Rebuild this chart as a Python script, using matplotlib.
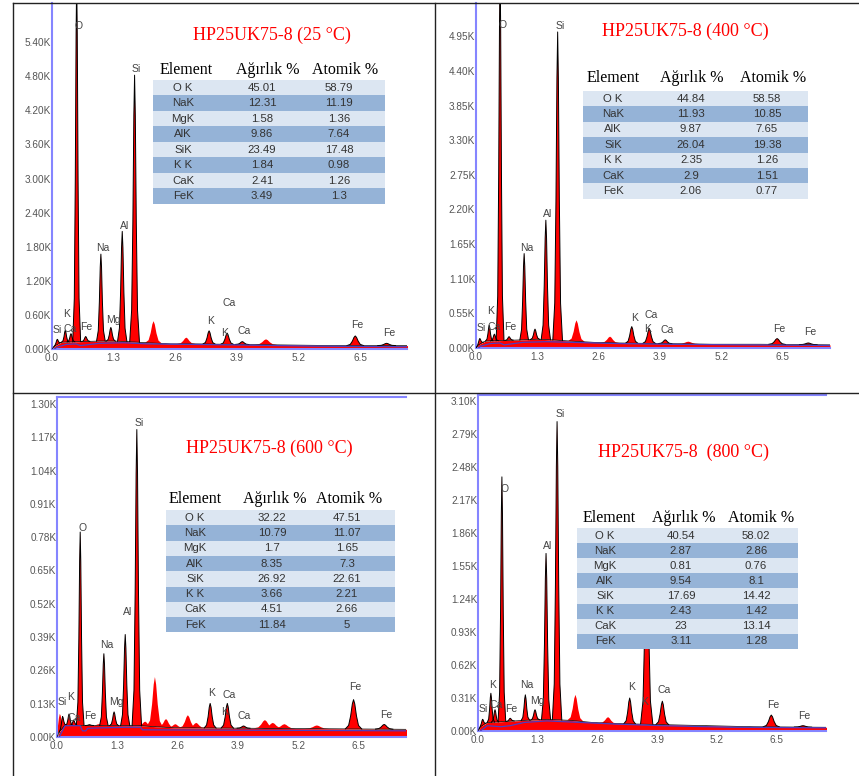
"""EDS spectra of HP25UK75-8 at four temperatures, with composition tables."""

import numpy as np
import matplotlib
matplotlib.use('Agg')
import matplotlib.pyplot as plt
from matplotlib.patches import Rectangle
from matplotlib.lines import Line2D

W, H = 859, 776

# ---------------- data ----------------
x_ticks = [0.0, 1.3, 2.6, 3.9, 5.2, 6.5]

titles = ['HP25UK75-8 (25 °C)', 'HP25UK75-8 (400 °C)',
          'HP25UK75-8 (600 °C)', 'HP25UK75-8  (800 °C)']

# y ticks (K counts)
y25 = [0.00, 0.60, 1.20, 1.80, 2.40, 3.00, 3.60, 4.20, 4.80, 5.40]
y400 = [0.00, 0.55, 1.10, 1.65, 2.20, 2.75, 3.30, 3.85, 4.40, 4.95]
y600 = [0.00, 0.13, 0.26, 0.39, 0.52, 0.65, 0.78, 0.91, 1.04, 1.17, 1.30]
y800 = [0.00, 0.31, 0.62, 0.93, 1.24, 1.55, 1.86, 2.17, 2.48, 2.79, 3.10]

# fitted peaks: energy (keV), height (K counts)
pk25_e = [0.11, 0.28, 0.40, 0.52, 0.71, 1.03, 1.24, 1.48, 1.74, 3.31, 3.69, 4.01, 6.39, 7.05]
pk25_h = [0.17, 0.33, 0.27, 6.50, 0.22, 1.67, 0.38, 2.07, 4.82, 0.32, 0.28, 0.13, 0.23, 0.10]
pk400_e = [0.08, 0.28, 0.39, 0.51, 0.70, 1.02, 1.25, 1.48, 1.73, 3.30, 3.67, 4.01, 6.38, 7.04]
pk400_h = [0.15, 0.36, 0.22, 6.00, 0.18, 1.50, 0.30, 2.03, 5.02, 0.34, 0.31, 0.13, 0.15, 0.08]
pk600_e = [0.12, 0.26, 0.36, 0.50, 0.70, 1.01, 1.23, 1.47, 1.72, 3.30, 3.67, 4.02, 6.39, 7.05]
pk600_h = [0.08, 0.09, 0.065, 0.80, 0.048, 0.325, 0.098, 0.40, 1.20, 0.131, 0.131, 0.043, 0.146, 0.049]
pk800_e = [0.10, 0.28, 0.37, 0.52, 0.70, 1.03, 1.24, 1.48, 1.72, 3.30, 3.67, 4.01, 6.38, 7.07]
pk800_h = [0.11, 0.355, 0.20, 2.39, 0.12, 0.34, 0.20, 1.67, 2.91, 0.31, 1.90, 0.28, 0.15, 0.05]

# unfitted (red only) peaks
ex25_e, ex25_h = [2.14, 2.83, 4.51], [0.49, 0.20, 0.17]
ex400_e, ex400_h = [2.13, 2.84, 4.50], [0.44, 0.18, 0.10]
ex600_e = [0.06, 0.90, 1.90, 2.11, 2.35, 2.55, 2.82, 3.00, 4.48, 4.65, 4.90, 5.60]
ex600_h = [0.09, 0.05, 0.06, 0.234, 0.07, 0.05, 0.085, 0.055, 0.066, 0.055, 0.05, 0.045]
ex800_e, ex800_h = [2.12, 2.83], [0.34, 0.13]

# continuum (top of the red area between peaks)
ct25_e = [0.0, 0.05, 0.2, 0.6, 1.0, 1.3, 1.6, 2.0, 2.5, 3.0, 4.0, 5.0, 6.0, 7.5]
ct25_c = [0.0, 0.05, 0.12, 0.13, 0.14, 0.14, 0.13, 0.11, 0.09, 0.09, 0.08, 0.07, 0.06, 0.06]
ct400_e = [0.0, 0.05, 0.2, 0.6, 1.0, 1.3, 1.6, 2.0, 2.5, 3.0, 4.0, 5.0, 6.0, 7.5]
ct400_c = [0.0, 0.05, 0.11, 0.12, 0.13, 0.14, 0.13, 0.11, 0.09, 0.08, 0.07, 0.06, 0.06, 0.05]
ct600_e = [0.0, 0.05, 0.17, 0.5, 1.0, 1.8, 2.5, 3.5, 5.0, 6.0, 7.55]
ct600_c = [0.0, 0.02, 0.046, 0.045, 0.045, 0.044, 0.036, 0.035, 0.033, 0.032, 0.030]
ct800_e = [0.0, 0.05, 0.2, 0.6, 1.0, 1.5, 2.0, 2.5, 3.0, 4.0, 5.0, 6.0, 7.6]
ct800_c = [0.0, 0.04, 0.08, 0.09, 0.10, 0.11, 0.10, 0.08, 0.07, 0.06, 0.05, 0.04, 0.035]

# background (purple line)
bg25_e = [0.05, 0.1, 0.3, 0.5, 0.6, 1.0, 1.5, 2.0, 3.0, 4.0, 5.5, 7.5]
bg25_c = [0.0, 0.03, 0.08, 0.09, 0.06, 0.10, 0.11, 0.09, 0.08, 0.07, 0.05, 0.04]
bg400_e = [0.05, 0.1, 0.3, 0.5, 0.6, 1.0, 1.5, 2.0, 3.0, 4.0, 5.5, 7.5]
bg400_c = [0.0, 0.03, 0.07, 0.08, 0.05, 0.09, 0.10, 0.09, 0.07, 0.06, 0.05, 0.04]
bg600_e = [0.05, 0.17, 0.50, 0.55, 0.62, 0.66, 1.0, 1.5, 1.80, 1.84, 3.0, 5.0, 7.55]
bg600_c = [0.0, 0.044, 0.044, 0.024, 0.024, 0.034, 0.036, 0.038, 0.038, 0.028, 0.027, 0.026, 0.024]
bg800_e = [0.05, 0.2, 0.5, 0.7, 1.0, 1.5, 2.0, 3.0, 4.0, 5.5, 7.6]
bg800_c = [0.0, 0.05, 0.04, 0.05, 0.08, 0.095, 0.085, 0.065, 0.05, 0.035, 0.03]

# peak labels: text, energy, counts
lb25_t = ['Si', 'K', 'Ca', 'Fe', 'O', 'Na', 'Mg', 'Al', 'Si', 'Ca', 'K', 'K', 'Ca', 'Fe', 'Fe']
lb25_e = [0.12, 0.31, 0.38, 0.73, 0.57, 1.07, 1.29, 1.52, 1.77, 3.73, 3.35, 3.63, 4.04, 6.44, 7.10]
lb25_k = [0.33, 0.62, 0.35, 0.38, 5.68, 1.77, 0.51, 2.16, 4.92, 0.81, 0.49, 0.29, 0.32, 0.43, 0.29]
lb400_t = ['Si', 'K', 'Ca', 'Fe', 'O', 'Na', 'Al', 'Si', 'K', 'Ca', 'K', 'Ca', 'Fe', 'Fe']
lb400_e = [0.12, 0.31, 0.38, 0.72, 0.56, 1.07, 1.51, 1.78, 3.35, 3.72, 3.63, 4.04, 6.43, 7.09]
lb400_k = [0.31, 0.58, 0.34, 0.33, 5.13, 1.59, 2.13, 5.12, 0.48, 0.52, 0.30, 0.28, 0.30, 0.25]
lb600_t = ['Si', 'K', 'Ca', 'Fe', 'O', 'Na', 'Mg', 'Al', 'Si', 'K', 'Ca', 'K', 'Ca', 'Fe', 'Fe']
lb600_e = [0.11, 0.30, 0.37, 0.71, 0.55, 1.07, 1.29, 1.52, 1.77, 3.33, 3.71, 3.62, 4.04, 6.42, 7.09]
lb600_k = [0.135, 0.156, 0.075, 0.081, 0.814, 0.361, 0.137, 0.486, 1.227, 0.172, 0.163, 0.098, 0.083, 0.195, 0.085]
lb800_t = ['Si', 'K', 'Ca', 'Fe', 'O', 'Na', 'Mg', 'Al', 'Si', 'K', 'K', 'Ca', 'Fe', 'Fe']
lb800_e = [0.12, 0.31, 0.39, 0.72, 0.57, 1.07, 1.29, 1.52, 1.78, 3.34, 3.63, 4.04, 6.43, 7.09]
lb800_k = [0.21, 0.43, 0.245, 0.21, 2.28, 0.43, 0.285, 1.74, 2.98, 0.41, 0.27, 0.39, 0.245, 0.144]

# composition tables
head = ['Element', 'Ağırlık %', 'Atomik %']
t25_el = ['O K', 'NaK', 'MgK', 'AlK', 'SiK', 'K K', 'CaK', 'FeK']
t25_wt = ['45.01', '12.31', '1.58', '9.86', '23.49', '1.84', '2.41', '3.49']
t25_at = ['58.79', '11.19', '1.36', '7.64', '17.48', '0.98', '1.26', '1.3']
t400_el = ['O K', 'NaK', 'AlK', 'SiK', 'K K', 'CaK', 'FeK']
t400_wt = ['44.84', '11.93', '9.87', '26.04', '2.35', '2.9', '2.06']
t400_at = ['58.58', '10.85', '7.65', '19.38', '1.26', '1.51', '0.77']
t600_el = ['O K', 'NaK', 'MgK', 'AlK', 'SiK', 'K K', 'CaK', 'FeK']
t600_wt = ['32.22', '10.79', '1.7', '8.35', '26.92', '3.66', '4.51', '11.84']
t600_at = ['47.51', '11.07', '1.65', '7.3', '22.61', '2.21', '2.66', '5']
t800_el = ['O K', 'NaK', 'MgK', 'AlK', 'SiK', 'K K', 'CaK', 'FeK']
t800_wt = ['40.54', '2.87', '0.81', '9.54', '17.69', '2.43', '23', '3.11']
t800_at = ['58.02', '2.86', '0.76', '8.1', '14.42', '1.42', '13.14', '1.28']

# ---------------- styles ----------------
RED = '#ff0000'
SPINE = '#8585ff'
BGLINE = '#4f3cc0'
LIGHT = '#dce6f2'
DARK = '#95b3d7'
SANS = 'Liberation Sans'
SERIF = 'Liberation Serif'
# peak profile (fraction of half-width, fraction of height)
PROF_X = [-1.0, -0.6, -0.35, -0.15, 0.0, 0.15, 0.35, 0.6, 1.0]
PROF_Y = [0.0, 0.12, 0.45, 0.85, 1.0, 0.85, 0.45, 0.12, 0.0]

fig = plt.figure(figsize=(W / 100, H / 100), dpi=100)


def fx(px):
    return px / W


def fy(py):
    return 1 - py / H


def halfwidth(e):
    return 0.075 + 0.016 * e


def draw_peak(ax, c, h, ce, cc, outline, widen=1.0):
    w = halfwidth(c) * widen
    base_c = np.interp(c, ce, cc)
    xs = [c + f * w for f in PROF_X]
    ys = [np.interp(x, ce, cc) + f * (h - base_c) for x, f in zip(xs, PROF_Y)]
    ax.fill(xs, ys, color=RED, lw=0, zorder=2)
    if outline:
        ax.plot(xs, ys, color='black', lw=0.7, zorder=3)


def draw_panel(rect, xmax, yticks, ymax, pk_e, pk_h, ex_e, ex_h,
               ct_e, ct_c, bg_e, bg_c, lb_t, lb_e, lb_k, top_spine):
    l, t, r, b = rect
    ax = fig.add_axes([fx(l), fy(b), fx(r - l), (b - t) / H])
    ax.fill_between(ct_e, 0, ct_c, color=RED, lw=0, zorder=1)
    for c, h in zip(ex_e, ex_h):
        draw_peak(ax, c, h, ct_e, ct_c, False, widen=1.6)
    for c, h in zip(pk_e, pk_h):
        draw_peak(ax, c, h, ct_e, ct_c, True)
    ax.plot(ct_e, ct_c, color='black', lw=0.5, zorder=3)
    ax.plot(bg_e, bg_c, color=BGLINE, lw=0.9, zorder=4)
    for s, e, k in zip(lb_t, lb_e, lb_k):
        ax.text(e, k, s, ha='center', va='center', fontsize=7.5,
                family=SANS, color='#444444', zorder=5)
    ax.set_xlim(0, xmax)
    ax.set_ylim(0, ymax)
    ax.set_xticks(x_ticks)
    ax.set_xticklabels(['%.1f' % v for v in x_ticks])
    ax.set_yticks(yticks)
    ax.set_yticklabels(['%.2fK' % v for v in yticks])
    ax.tick_params(length=0, labelsize=7.2, labelcolor='#555555')
    ax.tick_params(axis='y', pad=0.5)
    ax.tick_params(axis='x', pad=3)
    for lab in ax.get_xticklabels() + ax.get_yticklabels():
        lab.set_family(SANS)
    ax.spines['right'].set_visible(False)
    ax.spines['top'].set_visible(top_spine)
    for s in ['left', 'bottom', 'top']:
        ax.spines[s].set_color(SPINE)
        ax.spines[s].set_linewidth(1.5)
    ax.patch.set_alpha(0)
    return ax


def draw_table(x0, x1, top, rowh, head_y, col_x, head_x, cols):
    n = len(cols[0])
    for i in range(n):
        y = top + i * rowh
        fig.add_artist(Rectangle((fx(x0), fy(y + rowh)), fx(x1 - x0), rowh / H,
                                 transform=fig.transFigure, lw=0,
                                 facecolor=LIGHT if i % 2 == 0 else DARK,
                                 zorder=5))
        for cx, col in zip(col_x, cols):
            fig.text(fx(cx), fy(y + rowh / 2), col[i], ha='center', va='center',
                     fontsize=8.2, family=SANS, color='#333333', zorder=6)
    for hx, s in zip(head_x, head):
        fig.text(fx(hx), fy(head_y), s, ha='center', va='center',
                 fontsize=11.5, family=SERIF, color='black', zorder=6)


# panels: (left, top, right, bottom) in pixels
draw_panel((52, 3, 407, 349), 7.48, y25, 6.09, pk25_e, pk25_h, ex25_e, ex25_h,
           ct25_e, ct25_c, bg25_e, bg25_c, lb25_t, lb25_e, lb25_k, False)
draw_panel((476, 3, 830, 348), 7.50, y400, 5.48, pk400_e, pk400_h, ex400_e, ex400_h,
           ct400_e, ct400_c, bg400_e, bg400_c, lb400_t, lb400_e, lb400_k, False)
draw_panel((57, 397, 406, 737), 7.52, y600, 1.327, pk600_e, pk600_h, ex600_e, ex600_h,
           ct600_e, ct600_c, bg600_e, bg600_c, lb600_t, lb600_e, lb600_k, True)
draw_panel((478, 395, 826, 731), 7.57, y800, 3.16, pk800_e, pk800_h, ex800_e, ex800_h,
           ct800_e, ct800_c, bg800_e, bg800_c, lb800_t, lb800_e, lb800_k, True)

# titles
for (tx, ty), s in zip([(272, 35), (685, 31), (269, 448), (683, 452)], titles):
    fig.text(fx(tx), fy(ty), s, ha='center', va='center', fontsize=13,
             family=SERIF, color=RED, zorder=6)

# tables
draw_table(153, 385, 80, 15.5, 70, (183, 262, 339), (186, 268, 345),
           (t25_el, t25_wt, t25_at))
draw_table(583, 808, 91, 15.4, 78, (613, 691, 767), (613, 692, 773),
           (t400_el, t400_wt, t400_at))
draw_table(166, 395, 510, 15.3, 499, (195, 272, 347), (195, 275, 349),
           (t600_el, t600_wt, t600_at))
draw_table(577, 798, 528, 15.1, 518, (605, 681, 756), (609, 684, 761),
           (t800_el, t800_wt, t800_at))

# frame lines of the original layout
frame = dict(color='#222222', lw=1.0, transform=fig.transFigure, zorder=7)
fig.add_artist(Line2D([fx(12.5), fx(12.5)], [0, fy(3)], **frame))
fig.add_artist(Line2D([fx(12.5), 1], [fy(3), fy(3)], **frame))
fig.add_artist(Line2D([fx(434.5), fx(434.5)], [0, fy(3)], **frame))
fig.add_artist(Line2D([fx(12.5), 1], [fy(393), fy(393)], **frame))

fig.savefig('out.png', dpi=100)
